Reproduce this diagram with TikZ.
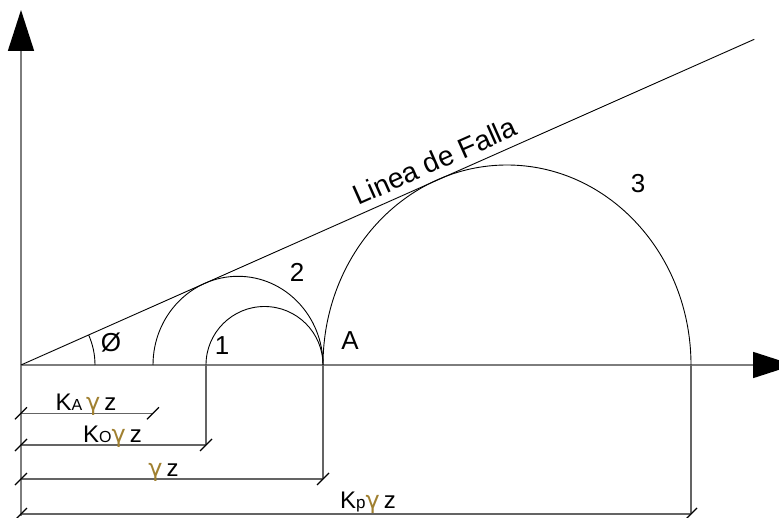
\documentclass[tikz,border=0pt]{standalone}
\usepackage{fontspec}
\setmainfont{Liberation Sans}
\newfontfamily\gfont{DejaVu Sans}
\usetikzlibrary{arrows.meta}
\definecolor{gam}{RGB}{160,128,48}
\definecolor{axgray}{RGB}{125,125,125}
\newcommand{\gm}{\textcolor{gam}{\gfont γ}}
\newcommand{\tk}[1]{\draw[tickst] (#1) ++(-6,-6) -- ++(12,12);}
\begin{document}
\begin{tikzpicture}[x=1pt,y=1pt,
  axis/.style={draw=axgray, line width=1.6pt, -{Triangle[length=41pt,width=26pt,color=black]}},
  thin/.style={draw=black, line width=0.9pt},
  dim/.style={draw=axgray!80!black, line width=1.1pt},
  tickst/.style={draw=black, line width=1.2pt},
  lbl/.style={font=\fontsize{26}{30}\selectfont, inner sep=0pt},
  dlbl/.style={font=\fontsize{24}{28}\selectfont, inner sep=0pt}]
\clip (0,0) rectangle (779,517);
\coordinate (O) at (21,152);
\coordinate (Ytop) at (21,507);
\coordinate (Ybot) at (21,1);
\coordinate (Xend) at (794,152);
\coordinate (Lend) at (754.3,477.7);
% axes
\draw[dim] (O) -- (Ybot);
\draw[axis] (Ybot) -- (Ytop);
\draw[axis] (O) -- (Xend);
% failure line
\draw[thin] (O) -- (Lend);
% circles
\coordinate (P1) at (206,152);
\coordinate (P2) at (153,152);
\coordinate (A) at (323,152);
\coordinate (P3) at (691,152);
\draw[thin] (P1) arc[start angle=180, end angle=0, x radius=58.5, y radius=58.5];
\draw[thin] (P2) arc[start angle=180, end angle=0, x radius=85, y radius=88.7];
\draw[thin] (A) arc[start angle=180, end angle=0, x radius=184, y radius=200];
% angle arc
\draw[thin] (95,152) arc[start angle=0, end angle=23.95, radius=74];
% dimension lines
\coordinate (d1a) at (21,103.7); \coordinate (d1b) at (153,103.7);
\coordinate (d2a) at (21,72);    \coordinate (d2b) at (206,72);
\coordinate (d3a) at (21,38);    \coordinate (d3b) at (323,38);
\coordinate (d4a) at (21,3);     \coordinate (d4b) at (691,3);
\draw[dim] (d1a) -- (d1b);
\draw[dim] (d2a) -- (d2b);
\draw[dim] (d3a) -- (d3b);
\draw[dim] (d4a) -- (d4b);
\draw[dim] (P1) -- (d2b);
\draw[dim] (A) -- (d3b);
\draw[dim] (P3) -- (d4b);
\tk{d1a}\tk{d1b}\tk{d2a}\tk{d2b}\tk{d3a}\tk{d3b}\tk{d4a}\tk{d4b}
% labels
\node[dlbl, anchor=base] (lKA) at (86,106.3) {K{\fontsize{16}{18}\selectfont A}\,\gm\,z};
\node[dlbl, anchor=base] (lKo) at (112.5,75) {K{\fontsize{16}{18}\selectfont O}\gm\,z};
\node[dlbl, anchor=base] (lgz) at (163.5,41) {\gm\,z};
\node[dlbl, anchor=base] (lKp) at (368,9) {K{\fontsize{17}{18}\selectfont p}\gm\,z};
\node[lbl] (n1) at (222,171) {1};
\node[lbl] (n2) at (297,245) {2};
\node[lbl] (n3) at (638,333) {3};
\node[lbl] (nA) at (350,176) {A};
\node[lbl] (nphi) at (111,174) {Ø};
\node[lbl, font=\fontsize{28}{32}\selectfont, anchor=base west, rotate=23.95] (lf) at (358,311) {Linea de Falla};
\end{tikzpicture}
\end{document}
